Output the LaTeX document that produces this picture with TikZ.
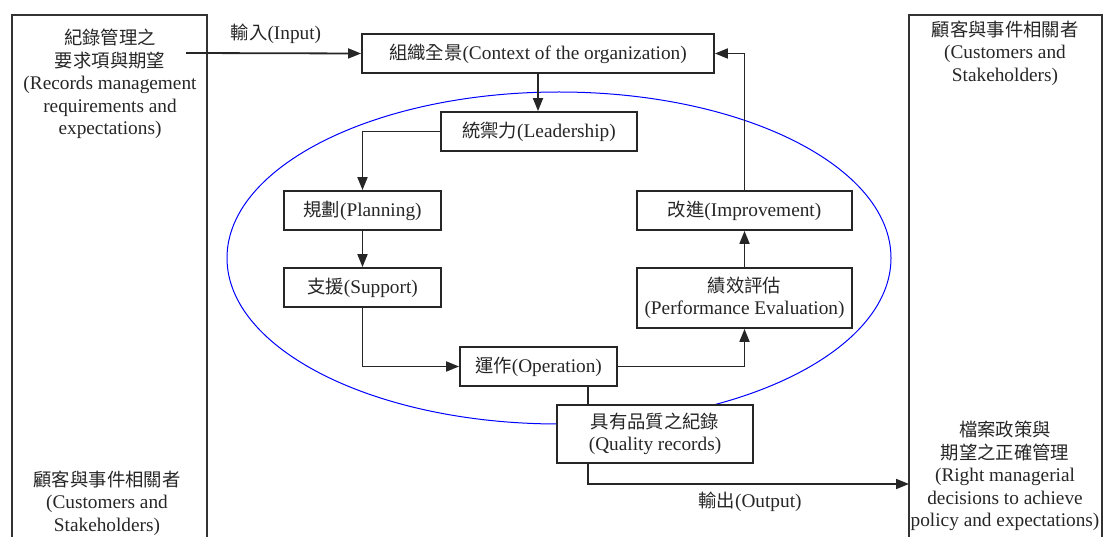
\documentclass[tikz,border=0pt]{standalone}
\usepackage{fontspec}
\setmainfont{Liberation Serif}
\newfontfamily\cjk[Scale=0.95]{Noto Sans CJK TC}
\usetikzlibrary{arrows.meta}
\begin{document}
\begin{tikzpicture}[x=1pt,y=-1pt,
  font=\fontsize{19.3}{22.5}\selectfont,
  every node/.style={text=black!85},
  panel/.style={draw=black!80, line width=1.8pt},
  stagebox/.style={draw=black!85, line width=1.8pt, fill=white, inner sep=0pt,
                   minimum height=39pt, align=center},
  link/.style={draw=black!85, line width=1.8pt},
  arr/.style={link, -{Triangle[length=13pt,width=10pt]}},
  loop/.style={draw=blue, line width=1pt},
  label/.style={align=center, inner sep=0pt}]
\useasboundingbox (0,0) rectangle (1105,537);

% side panels, open at the bottom
\draw[panel] (12,537) -- (12,15) -- (207,15) -- (207,537);
\draw[panel] (909,537) -- (909,15) -- (1102,15) -- (1102,537);

% improvement cycle
\draw[loop] (559,258) ellipse [x radius=332, y radius=166];

% panel texts
\node[label] (req) at (110,84) {{\cjk 紀錄管理之}\\{\cjk 要求項與期望}\\(Records management\\requirements and\\expectations)};
\node[label] (custL) at (107,503) {{\cjk 顧客與事件相關者}\\(Customers and\\Stakeholders)};
\node[label] (custR) at (1005,53) {{\cjk 顧客與事件相關者}\\(Customers and\\Stakeholders)};
\node[label] (decide) at (1005,476) {{\cjk 檔案政策與}\\{\cjk 期望之正確管理}\\(Right managerial\\decisions to achieve\\policy and expectations)};

% process stages
\node[stagebox, minimum width=352pt] (ctx) at (538,53.5) {{\cjk 組織全景}(Context of the organization)};
\node[stagebox, minimum width=196pt] (lead) at (539,131.5) {{\cjk 統禦力}(Leadership)};
\node[stagebox, minimum width=157pt] (plan) at (362.5,210.5) {{\cjk 規劃}(Planning)};
\node[stagebox, minimum width=157pt] (supp) at (362.5,287.5) {{\cjk 支援}(Support)};
\node[stagebox, minimum width=157pt] (oper) at (538.5,366.5) {{\cjk 運作}(Operation)};
\node[stagebox, minimum width=215pt, minimum height=60pt] (perf) at (744.5,298) {{\cjk 績效評估}\\(Performance Evaluation)};
\node[stagebox, minimum width=215pt] (impr) at (744.5,210.5) {{\cjk 改進}(Improvement)};
\node[stagebox, minimum width=196pt, minimum height=58pt] (qrec) at (655,434) {{\cjk 具有品質之紀錄}\\(Quality records)};

% flow labels
\node[label] (inlab) at (276,34) {{\cjk 輸入}(Input)};
\node[label] (outlab) at (750,502) {{\cjk 輸出}(Output)};

% free ends of the input and output flows
\coordinate (instart) at (186,53);
\coordinate (outend) at (909,484);
\coordinate (qx) at (588,0);

% connectors
\draw[arr] (instart) -- (ctx.west);
\draw[arr] (ctx.south) -- (ctx.south |- lead.north);
\draw[arr] (lead.west) -| (plan.north);
\draw[arr] (plan.south) -- (supp.north);
\draw[arr] (supp.south) |- (oper.west);
\draw[arr] (oper.east) -| (perf.south);
\draw[arr] (perf.north) -- (impr.south);
\draw[arr] (impr.north) |- (ctx.east);
\draw[link] (oper.south -| qx) -- (qrec.north -| qx);
\draw[arr] (qrec.south -| qx) |- (outend);
\end{tikzpicture}
\end{document}
